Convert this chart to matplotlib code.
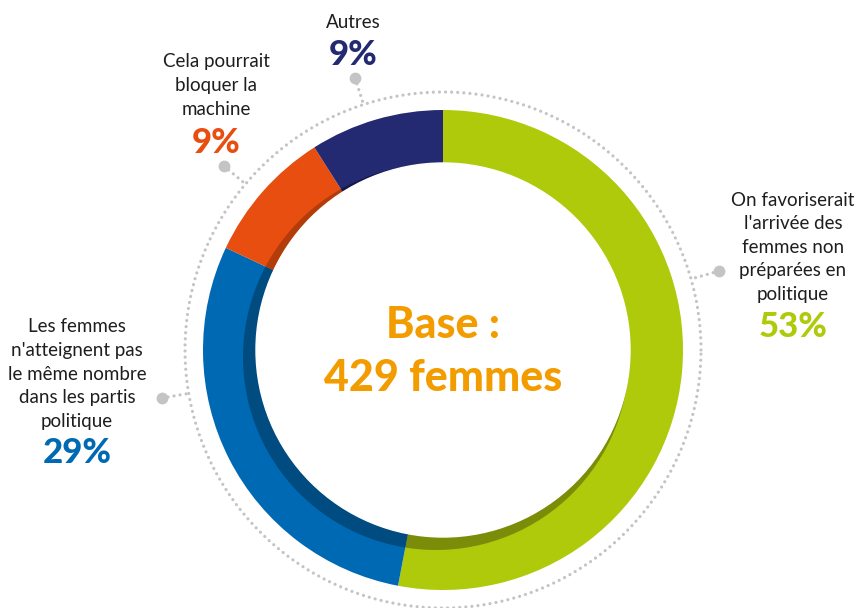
import matplotlib.pyplot as plt
from matplotlib.patches import Circle
import numpy as np

# données
categories = ["On favoriserait\nl'arrivée des\nfemmes non\npréparées en\npolitique",
              "Les femmes\nn'atteignent pas\nle même nombre\ndans les partis\npolitique",
              "Cela pourrait\nbloquer la\nmachine",
              "Autres"]
values = [53, 29, 9, 9]
pct_labels = ["53%", "29%", "9%", "9%"]

colors = ['#afca0b', '#0069b4', '#e84e0f', '#232a72']
dark_colors = ['#7b8c09', '#004b80', '#b33c0b', '#14184a']

plt.rcParams['font.family'] = ['Lato', 'DejaVu Sans']

W, H = 857, 608
fig = plt.figure(figsize=(W / 100, H / 100), dpi=100)
ax = fig.add_axes([0, 0, 1, 1])

cx, cy = 443, H - 350
R_out, R_in = 240, 187

# anneau principal
ax.pie(values, colors=colors, startangle=90, counterclock=False,
       radius=R_out, center=(cx, cy), wedgeprops=dict(linewidth=0))

# ombre intérieure (décalée vers le bas à gauche)
shadow, _ = ax.pie(values, colors=dark_colors, startangle=90, counterclock=False,
                   radius=R_in + 20, center=(cx, cy), wedgeprops=dict(linewidth=0))
clip = Circle((cx - 7, cy - 7), 193, transform=ax.transData)
for w in shadow:
    w.set_clip_on(True)
    w.set_clip_path(clip)

ax.add_patch(Circle((cx, cy), R_in, color='white', zorder=3))

# cercle pointillé
dots = dict(color='#c4c4c4', lw=2.3, ls=(0, (0.01, 1.9)),
            dash_capstyle='round', zorder=1)
t = np.linspace(0, 2 * np.pi, 400)
R_dot = 258
ax.plot(cx + R_dot * np.cos(t), cy + R_dot * np.sin(t), **dots)

# étiquettes : (x texte, y première ligne, y pourcentage, point)
label_pos = [(793, 200, 327, (719, 271)),
             (77, 327, 453, (162, 398)),
             (216, 62, 143, (224, 166)),
             (353, 22, 55, (355, 78))]

for cat, pct, col, (tx, ty, py, (dx, dy)) in zip(categories, pct_labels, colors, label_pos):
    for i, ln in enumerate(cat.split("\n")):
        ax.text(tx, H - (ty + i * 23.6), ln, ha='center', va='center',
                fontsize=13.5, color='#1e1e1e')
    ax.text(tx, H - py, pct, ha='center', va='center', fontsize=25,
            fontweight='black', color=col)
    # connecteur
    vx, vy = dx - cx, (H - dy) - cy
    d = np.hypot(vx, vy)
    ex, ey = cx + vx / d * R_dot, cy + vy / d * R_dot
    ax.plot([dx, ex], [H - dy, ey], **dots)
    ax.plot(dx, H - dy, 'o', color='#c4c4c4', ms=8.5, mec='none', zorder=2)

# texte central
ax.text(cx, H - 325, "Base :", ha='center', va='center', fontsize=31,
        fontweight='black', color='#f39c00', zorder=4)
ax.text(cx, H - 378, "429 femmes", ha='center', va='center', fontsize=31,
        fontweight='black', color='#f39c00', zorder=4)

ax.set_xlim(0, W)
ax.set_ylim(0, H)
ax.set_aspect('equal')
ax.axis('off')

fig.savefig('out.png', dpi=100, facecolor='white')
